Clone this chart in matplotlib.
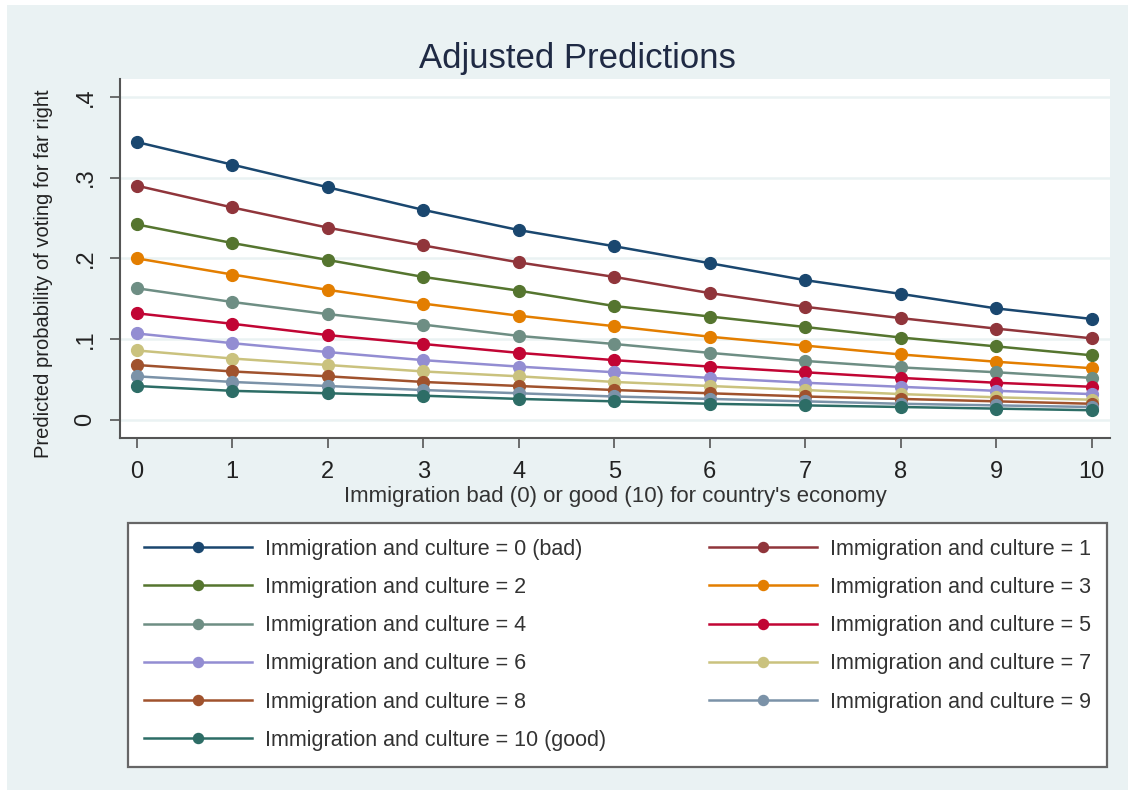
import numpy as np
import matplotlib.pyplot as plt
from matplotlib.patches import Rectangle

plt.rcParams['font.family'] = ['Liberation Sans', 'DejaVu Sans']

# x values: immigration good/bad for economy
econ = list(range(11))

# predicted probabilities, one list per level of "immigration and culture"
p0 = [0.344, 0.316, 0.288, 0.260, 0.235, 0.215, 0.194, 0.173, 0.156, 0.138, 0.125]
p1 = [0.290, 0.263, 0.238, 0.216, 0.195, 0.177, 0.157, 0.140, 0.126, 0.113, 0.101]
p2 = [0.242, 0.219, 0.198, 0.177, 0.160, 0.141, 0.128, 0.115, 0.102, 0.091, 0.080]
p3 = [0.200, 0.180, 0.161, 0.144, 0.129, 0.116, 0.103, 0.092, 0.081, 0.072, 0.064]
p4 = [0.163, 0.146, 0.131, 0.118, 0.104, 0.094, 0.083, 0.073, 0.065, 0.059, 0.052]
p5 = [0.132, 0.119, 0.105, 0.094, 0.083, 0.074, 0.066, 0.059, 0.052, 0.046, 0.041]
p6 = [0.107, 0.095, 0.084, 0.074, 0.066, 0.059, 0.052, 0.046, 0.041, 0.036, 0.032]
p7 = [0.086, 0.076, 0.068, 0.060, 0.054, 0.047, 0.042, 0.037, 0.032, 0.028, 0.025]
p8 = [0.068, 0.060, 0.054, 0.047, 0.042, 0.037, 0.033, 0.029, 0.026, 0.023, 0.020]
p9 = [0.054, 0.047, 0.042, 0.037, 0.033, 0.029, 0.026, 0.023, 0.020, 0.018, 0.016]
p10 = [0.042, 0.036, 0.033, 0.030, 0.026, 0.023, 0.020, 0.018, 0.016, 0.014, 0.012]

series = [p0, p1, p2, p3, p4, p5, p6, p7, p8, p9, p10]
labels = ['Immigration and culture = 0 (bad)'] + \
         ['Immigration and culture = %d' % i for i in range(1, 10)] + \
         ['Immigration and culture = 10 (good)']
# stata s2color palette
colors = ['#1a476f', '#90353b', '#55752f', '#e37e00', '#6e8e84', '#c10534',
          '#938dd2', '#cac27e', '#a0522d', '#7b92a8', '#2d6d66']

yticks = [0, 0.1, 0.2, 0.3, 0.4]
ytick_labels = ['0', '.1', '.2', '.3', '.4']

bg = '#eaf2f3'
W, H = 1135, 794
fig = plt.figure(figsize=(W / 100, H / 100), dpi=100, facecolor='white')
fig.patches.append(Rectangle((7 / W, 1 - 790 / H), (1128 - 7) / W, (790 - 5) / H,
                             transform=fig.transFigure, facecolor=bg,
                             edgecolor='none', zorder=-10))

ax = fig.add_axes([120 / W, 1 - 437.7 / H, (1110 - 120) / W, (437.7 - 79) / H])
ax.set_facecolor('white')

handles = []
for vals, lab, c in zip(series, labels, colors):
    h, = ax.plot(econ, vals, color=c, lw=1.8, marker='o', ms=8.5, label=lab)
    handles.append(h)

ax.set_xlim(-0.175, 10.19)
ax.set_ylim(-0.022, 0.422)
ax.set_xticks(econ)
ax.set_yticks(yticks)
ax.set_yticklabels(ytick_labels, rotation=90, va='center')
ax.tick_params(axis='both', direction='out', length=7, width=1.2,
               color='#555555', labelsize=17, labelcolor='#222222')
ax.tick_params(axis='x', pad=10)
ax.tick_params(axis='y', pad=10)
ax.grid(axis='y', color=bg, lw=1.8)
ax.set_axisbelow(True)
for s in ['top', 'right']:
    ax.spines[s].set_visible(False)
for s in ['left', 'bottom']:
    ax.spines[s].set_color('#555555')
    ax.spines[s].set_linewidth(1.5)

ax.set_title('Adjusted Predictions', fontsize=25, color='#1f2a44', pad=8, x=0.462)
ax.set_xlabel("Immigration bad (0) or good (10) for country's economy",
              fontsize=16, color='#333333', labelpad=2)
ax.set_ylabel('Predicted probability of voting for far right',
              fontsize=14.5, color='#222222')
ax.yaxis.set_label_coords(-0.068, 0.456)

order = [0, 2, 4, 6, 8, 10, 1, 3, 5, 7, 9]
leg = fig.legend([handles[i] for i in order], [labels[i] for i in order],
                 loc='lower left', mode='expand', ncol=2, borderaxespad=0,
                 bbox_to_anchor=(128 / W, 1 - 767 / H, (1107 - 128) / W, (767 - 521) / H),
                 fontsize=15.5, handlelength=5.0, markerscale=0.85, numpoints=1,
                 labelspacing=0.8, borderpad=0.75, handletextpad=0.6,
                 frameon=True, fancybox=False, edgecolor='#666666',
                 facecolor='white', framealpha=1)
leg.get_frame().set_linewidth(1.6)
for t in leg.get_texts():
    t.set_color('#333333')

fig.savefig('out.png', dpi=100, facecolor='white')
